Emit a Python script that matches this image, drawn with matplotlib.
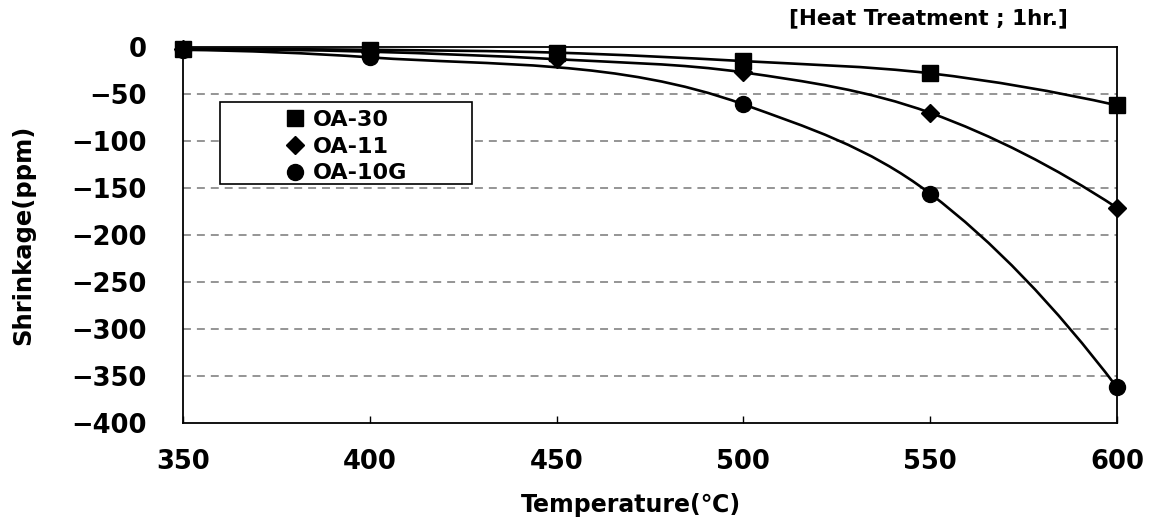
"""Shrinkage vs heat-treatment temperature for three glass grades."""

import matplotlib

matplotlib.use("Agg")
import matplotlib.pyplot as plt
from matplotlib.patches import PathPatch, Rectangle
from matplotlib.path import Path

temp = [350, 400, 450, 500, 550, 600]
oa30 = [-2, -3, -6, -15, -28, -62]
oa11 = [-2, -5, -13, -27, -70, -171]
temp_10g = [350, 400, 500, 550, 600]
oa10g = [-3, -11, -61, -156, -362]

SERIES = [
    ("OA-30", temp, oa30, "s", 11.5),
    ("OA-11", temp, oa11, "D", 9),
    ("OA-10G", temp_10g, oa10g, "o", 11.5),
]


def _slopes(xs, ys):
    h = [xs[i + 1] - xs[i] for i in range(len(xs) - 1)]
    d = [(ys[i + 1] - ys[i]) / h[i] for i in range(len(h))]
    m = [0.0] * len(xs)
    for i in range(1, len(xs) - 1):
        m[i] = (h[i] * d[i - 1] + h[i - 1] * d[i]) / (h[i - 1] + h[i])
    m[0] = d[0] - (d[1] - d[0]) * h[0] / (h[0] + h[1])
    m[-1] = d[-1] + (d[-1] - d[-2]) * h[-1] / (h[-1] + h[-2])
    return m


def smooth_path(xs, ys):
    """Smoothed line like the spreadsheet: cubic Bezier segments through the points."""
    m = _slopes(xs, ys)
    verts = [(xs[0], ys[0])]
    codes = [Path.MOVETO]
    for i in range(len(xs) - 1):
        h = xs[i + 1] - xs[i]
        verts += [
            (xs[i] + h / 3, ys[i] + m[i] * h / 3),
            (xs[i + 1] - h / 3, ys[i + 1] - m[i + 1] * h / 3),
            (xs[i + 1], ys[i + 1]),
        ]
        codes += [Path.CURVE4] * 3
    return Path(verts, codes)


fig = plt.figure(figsize=(11.49, 5.2), dpi=100)
ax = fig.add_axes([0.1593, 0.1865, 0.8128, 0.7231])

for y in range(-50, -400, -50):
    ax.axhline(y, color="#8c8c8c", lw=1.3, ls=(0, (4.4, 3.3)), zorder=1)

handles = []
for name, xs, ys, mk, ms in SERIES:
    ax.add_patch(PathPatch(smooth_path(xs, ys), fill=False, edgecolor="black", lw=1.9, zorder=3))
    (h,) = ax.plot(xs, ys, ls="none", marker=mk, ms=ms, color="black", label=name, zorder=4, clip_on=False)
    handles.append(h)

ax.set_xlim(350, 600)
ax.set_ylim(-400, 0)
ax.set_xticks(temp)
ax.set_yticks(range(0, -401, -50))
ax.set_yticklabels([str(v).replace("-", "\u2212") for v in range(0, -401, -50)])
ax.tick_params(axis="x", direction="in", length=5, width=1, labelsize=18.5, pad=19)
ax.tick_params(axis="y", length=0, labelsize=18.5, pad=26)
for lab in ax.get_xticklabels() + ax.get_yticklabels():
    lab.set_fontweight("bold")
for s in ax.spines.values():
    s.set_linewidth(1.3)

ax.set_xlabel("Temperature(\u2103)", fontsize=17, fontweight="bold")
ax.xaxis.set_label_coords(0.48, -0.187)
ax.set_ylabel("Shrinkage(ppm)", fontsize=17.5, fontweight="bold")
ax.yaxis.set_label_coords(-0.158, 0.5)

fig.text(0.929, 0.965, "[Heat Treatment ; 1hr.]", fontsize=15.5, fontweight="bold",
         ha="right", va="center")

# legend box is much wider than its contents in the original
ax.add_patch(Rectangle((0.0396, 0.636), 0.2698, 0.218, transform=ax.transAxes, fill=True,
                       facecolor="white", edgecolor="black", lw=1.2, zorder=5))
leg = ax.legend(handles=handles, loc="upper left", bbox_to_anchor=(284 / 1149, 1 - 110 / 520),
                bbox_transform=fig.transFigure, frameon=False, borderaxespad=0, borderpad=0,
                prop={"size": 16, "weight": "bold"}, handlelength=1.0, handletextpad=0.3,
                labelspacing=0.3)
leg.set_zorder(6)

fig.savefig("out.png")
